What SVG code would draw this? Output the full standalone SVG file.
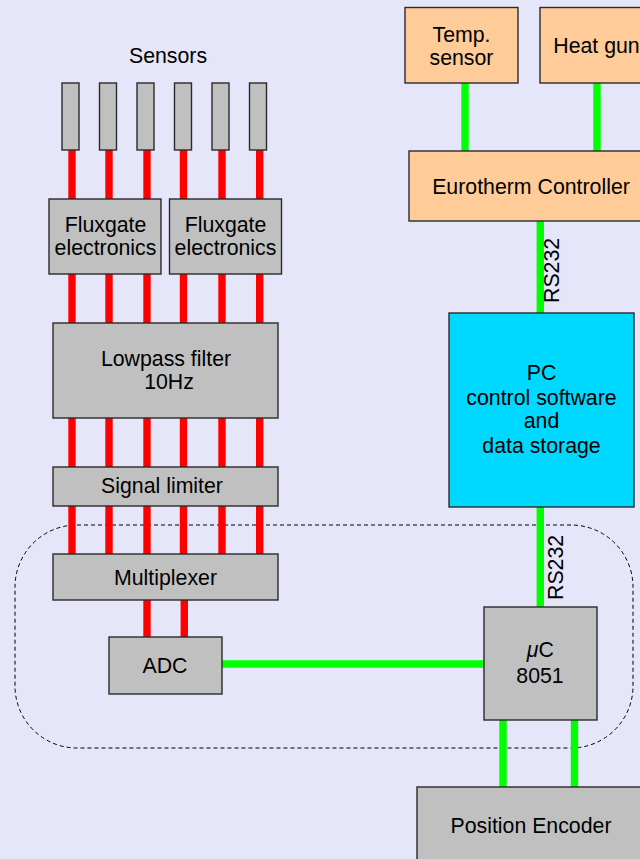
<svg xmlns="http://www.w3.org/2000/svg" width="640" height="859" viewBox="0 0 640 859">
<style>
text{font-family:"Liberation Sans",Arial,sans-serif;font-size:21.3px;fill:#000;text-anchor:middle}
.g{fill:#c0c0c0;stroke:#2a2a2a;stroke-width:1.4}
.o{fill:#ffcc99;stroke:#2a2a2a;stroke-width:1.4}
.c{fill:#00d9ff;stroke:#2a2a2a;stroke-width:1.4}
.r{stroke:#ff0000;stroke-width:7.4;fill:none}
.gr{stroke:#00ff00;stroke-width:7.4;fill:none}
.rot{text-anchor:start}
</style>
<rect x="0" y="0" width="640" height="859" fill="#e6e6fa"/>
<rect id="boundary" x="15" y="525" width="618" height="223" rx="62" ry="62" fill="none" stroke="#000" stroke-width="1" stroke-dasharray="4,3"/>
<g id="connectors">
  <g class="r">
    <path d="M72 150V199M109 150V199M147 150V199M183.5 150V199M222 150V199M259.7 150V199"/>
    <path d="M72 274V323M109 274V323M147 274V323M183.5 274V323M222 274V323M259.7 274V323"/>
    <path d="M72 418V467M109 418V467M147 418V467M183.5 418V467M222 418V467M259.7 418V467"/>
    <path d="M72 506V554M109 506V554M147 506V554M183.5 506V554M222 506V554M259.7 506V554"/>
    <path d="M147 600V637M184.3 600V637"/>
  </g>
  <g class="gr">
    <path d="M465 83V151M597 83V151"/>
    <path d="M540.3 221V313"/>
    <path d="M540.3 507V607"/>
    <path d="M222 664H484"/>
    <path d="M503 720V787M574.5 720V787"/>
  </g>
  <text class="rot" transform="translate(559,303) rotate(-90)">RS232</text>
  <text class="rot" transform="translate(563,600) rotate(-90)">RS232</text>
</g>
<text x="168" y="63">Sensors</text>
<g id="sensor1"><rect class="g" x="62" y="83" width="17" height="67"/></g>
<g id="sensor2"><rect class="g" x="99.5" y="83" width="17" height="67"/></g>
<g id="sensor3"><rect class="g" x="137" y="83" width="17" height="67"/></g>
<g id="sensor4"><rect class="g" x="174.5" y="83" width="17" height="67"/></g>
<g id="sensor5"><rect class="g" x="212" y="83" width="17" height="67"/></g>
<g id="sensor6"><rect class="g" x="249.5" y="83" width="17" height="67"/></g>
<g id="fluxgate1"><rect class="g" x="49" y="199" width="112" height="75"/><text x="105.5" y="232">Fluxgate</text><text x="105.5" y="255">electronics</text></g>
<g id="fluxgate2"><rect class="g" x="169.5" y="199" width="112" height="75"/><text x="225.5" y="232">Fluxgate</text><text x="225.5" y="255">electronics</text></g>
<g id="lowpass"><rect class="g" x="53" y="323" width="225" height="95"/><text x="166" y="366">Lowpass filter</text><text x="169" y="389">10Hz</text></g>
<g id="limiter"><rect class="g" x="53" y="467" width="225" height="39"/><text x="162" y="493">Signal limiter</text></g>
<g id="multiplexer"><rect class="g" x="53" y="554" width="225" height="46"/><text x="165.5" y="585">Multiplexer</text></g>
<g id="adc"><rect class="g" x="109" y="637" width="113" height="57"/><text x="165" y="672.5">ADC</text></g>
<g id="temp"><rect class="o" x="405" y="7.5" width="113" height="75.5"/><text x="461.5" y="42">Temp.</text><text x="461.5" y="65">sensor</text></g>
<g id="heatgun"><rect class="o" x="540" y="7.5" width="113" height="75.5"/><text x="596.5" y="53">Heat gun</text></g>
<g id="eurotherm"><rect class="o" x="409" y="151" width="244" height="70"/><text x="531" y="194">Eurotherm Controller</text></g>
<g id="pc"><rect class="c" x="449" y="313" width="185" height="194"/><text x="541.5" y="380">PC</text><text x="541.5" y="405">control software</text><text x="541.5" y="428">and</text><text x="541.5" y="453">data storage</text></g>
<g id="uc"><rect class="g" x="484" y="607" width="113" height="113"/><text x="540.3" y="657"><tspan font-style="italic">μ</tspan>C</text><text x="540" y="683">8051</text></g>
<g id="encoder"><rect class="g" x="417" y="787" width="228" height="80"/><text x="531" y="833">Position Encoder</text></g>
</svg>
